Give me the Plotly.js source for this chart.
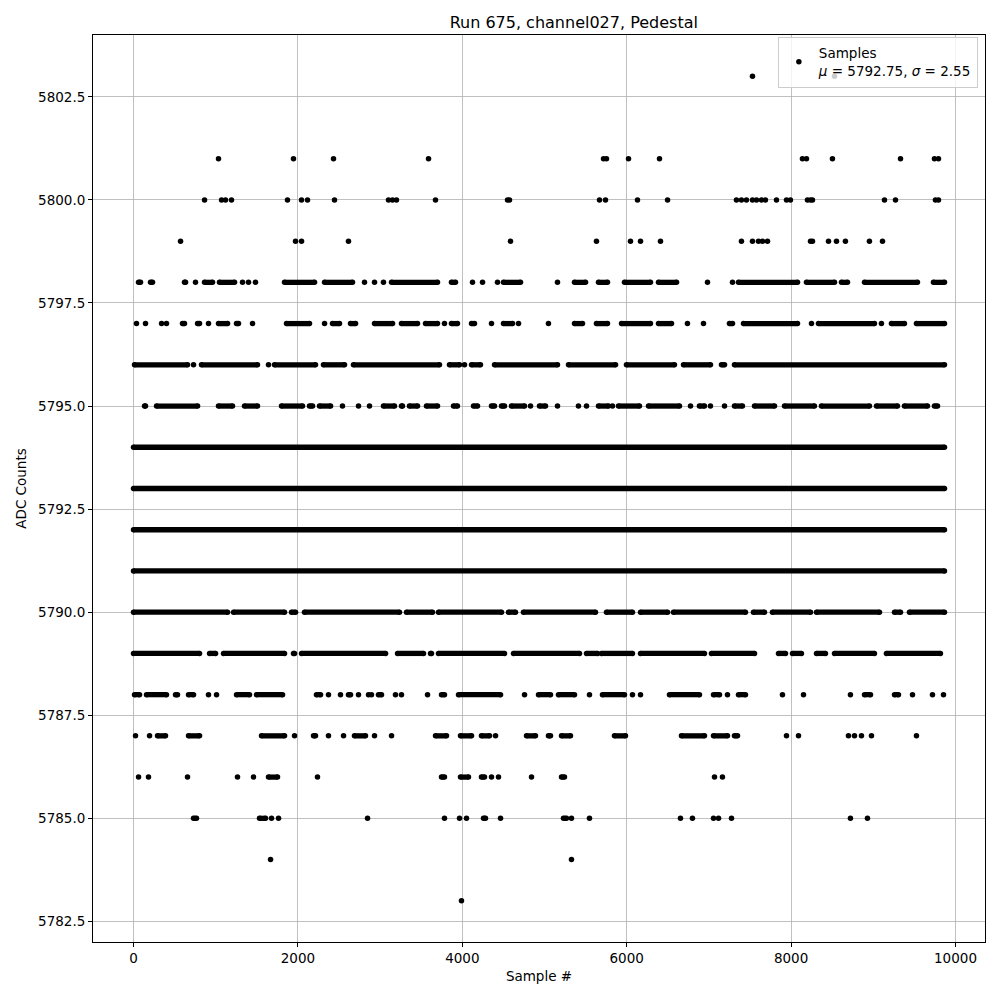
<!DOCTYPE html>
<html>
<head>
<meta charset="utf-8">
<script src="https://cdn.plot.ly/plotly-3.0.1.min.js"></script>
<style>html,body{margin:0;padding:0;background:#fff;}#chart{width:1000px;height:1000px;}</style>
</head>
<body>
<div id="chart"></div>
<script>
// ADC levels (counts) and, for each level, the samples where it occurs.
// A number is a single sample; a pair [a, b] is a run of consecutive, densely packed samples.
const levelValues = [5803, 5801, 5800, 5799, 5798, 5797, 5796, 5795, 5794, 5793, 5792, 5791, 5790, 5789, 5788, 5787, 5786, 5785, 5784, 5783];

const adc5803 = [7530, 8528];
const adc5801 = [1034, 1946, 2433, 3589, 5718, 5754, 6022, 6399, 8138, 8187, 8503, 9331, 9744, 9793];
const adc5800 = [864, 1071, 1119, 1192, 1873, 2044, 2117, 2445, 3102, 3151, 3199, 3674, 4550, 4574, 5669, 5742, 6131, 6497,
  7335, 7396, 7457, 7530, 7579, 7640, 7688, 7822, 7944, 7992, 8199, 8236, 8260, 9136, 9270, 9756, 9793];
const adc5799 = [572, 1971, 2044, 2615, 4586, 5632, 6046, 6168, 6411, 7396, 7530, 7603, 7652, 7713, 8236, 8260, 8455, 8552, 8661, 8953, 9112];
const adc5798 = [[61, 85], [207, 231], [620, 633], 754, [864, 961], [1046, 1229], 1326, 1399, 1484, [1837, 2202], [2324, 2664],
  2810, 2932, 3041, [3139, 3698], [3868, 3917], 4124, 4246, 4428, [4501, 4708], 5158, [5365, 5499], [5657, 5766],
  [5973, 6289], [6387, 6606], 6983, 7287, [7360, 8078], [8187, 8528], [8613, 8686], [8893, 9537], [9732, 9866]];
const adc5797 = [36, 146, 341, 401, [596, 620], [779, 803], 912, [1034, 1144], [1253, 1277], 1448, [1861, 2141], 2324,
  [2421, 2506], [2640, 2701], [2932, 3151], [3260, 3455], [3552, 3698], 3783, [3868, 3941], [4112, 4148], 4355,
  [4501, 4611], 4684, 5048, [5365, 5462], [5632, 5766], [5937, 6289], [6387, 6545], 6739, 6934, [7250, 7287],
  [7421, 8078], 8248, [8333, 9014], 9099, [9221, 9379], [9525, 9866]];
const adc5796 = [[12, 657], 730, [827, 1508], 1642, [1715, 2214], [2311, 2567], [2676, 3722], [3844, 3966], 4027,
  [4112, 4221], [4392, 5158], [5292, 5864], [5997, 6581], [6691, 7019], [7153, 7190], [7311, 9866]];
const adc5795 = [[134, 146], [280, 779], [1034, 1204], [1350, 1508], [1800, 2056], [2141, 2178], [2263, 2397], 2542, 2737,
  2871, [3041, 3175], [3260, 3272], [3357, 3455], [3564, 3698], [3893, 3941], [4136, 4185], [4355, 4392], [4477, 4513],
  [4598, 4757], 4830, [4939, 5012], 5158, 5413, 5511, [5657, 5778], 5827, [5900, 6155], [6265, 6642], 6776,
  [6885, 6946], 7019, 7190, [7311, 7408], [7555, 7798], [7920, 8284], [8369, 8953], [9039, 9294], [9379, 9659], [9744, 9781]];
const adc5794 = [[0, 9866]];
const adc5793 = [[0, 9866]];
const adc5792 = [[0, 9866]];
const adc5791 = [[0, 9866]];
const adc5790 = [[0, 1144], [1217, 1837], [1922, 1971], [2080, 3236], [3321, 3637], [3710, 4477], [4562, 4647], [4744, 5620],
  [5754, 6070], [6168, 6497], [6569, 7445], [7542, 7676], [7773, 8236], [8309, 9075], [9258, 9331], [9440, 9866]];
const adc5789 = [[0, 803], [925, 998], [1095, 1837], [1946, 1959], [2044, 3066], [3212, 3528], [3613, 3625], [3710, 4513],
  [4623, 5426], [5511, 5645], [5693, 6070], [6168, 6946], [7031, 7555], [7847, 7932], [8017, 8126], [8309, 8418],
  [8528, 9014], [9160, 9817]];
const adc5788 = [[12, 73], [158, 401], [511, 535], [669, 730], 912, 1010, [1253, 1411], [1496, 1813], [2226, 2275], 2372, 2518,
  [2615, 2640], 2737, 2859, 2895, [2980, 3017], 3187, 3260, 3577, [3747, 3783], [3954, 4465], 4757, [4927, 5073],
  [5170, 5365], 5547, [5705, 5973], 6070, 6168, [6520, 6885], [7056, 7129], 7226, [7360, 7445], 7895, 8151, 8722,
  [8893, 8966], [9258, 9306], 9477, 9720, 9854];
const adc5787 = [24, 195, [292, 389], [669, 803], [1557, 1837], 1959, [2190, 2214], 2372, 2555, [2688, 2822], 2932, 3139,
  [3674, 3808], [3978, 4112], [4233, 4331], 4404, [4781, 4890], [5048, 5073], [5207, 5316], [5851, 5985], [6666, 6946],
  [7056, 7226], [7311, 7348], 7944, 8090, 8698, 8771, 8856, 8978, 9525];
const adc5786 = [61, 182, 657, 1265, 1460, [1642, 1752], 2238, [3747, 3783], [3978, 4075], [4233, 4270], 4355, 4440, 4842,
  [5207, 5243], 7068, 7165];
const adc5785 = [[730, 766], [1533, 1606], 1679, 1764, 2847, 3783, 3966, 4051, [4258, 4282], 4465, [5231, 5267], 5328, 5547,
  6654, 6800, 7056, 7117, 7275, 8722, 8929];
const adc5784 = [1667, 5328];
const adc5783 = [3990];

const levelRuns = [adc5803, adc5801, adc5800, adc5799, adc5798, adc5797, adc5796, adc5795, adc5794, adc5793, adc5792,
  adc5791, adc5790, adc5789, adc5788, adc5787, adc5786, adc5785, adc5784, adc5783];

const legendLabel = 'Samples<br><i>μ</i> = 5792.75, <i>σ</i> = 2.55';

// Build traces
const lineX = [], lineY = [], ptX = [], ptY = [];
levelValues.forEach((lvl, i) => {
  levelRuns[i].forEach(e => {
    if (Array.isArray(e)) {
      lineX.push(e[0], e[1], null); lineY.push(lvl, lvl, null);
      ptX.push(e[0], e[1]); ptY.push(lvl, lvl);
    } else {
      ptX.push(e); ptY.push(lvl);
    }
  });
});

const font = 'DejaVu Sans, Liberation Sans, sans-serif';
const traces = [
  {x: lineX, y: lineY, type: 'scatter', mode: 'lines', line: {color: '#000', width: 5.3}, showlegend: false, hoverinfo: 'skip'},
  {x: ptX, y: ptY, type: 'scatter', mode: 'markers', name: legendLabel, marker: {color: '#000', size: 5.5}}
];

const axisCommon = {
  showline: true, linecolor: '#000', linewidth: 1, mirror: true,
  ticks: 'outside', ticklen: 4, tickwidth: 1, tickcolor: '#000',
  showgrid: true, gridcolor: '#b0b0b0', gridwidth: 0.8, zeroline: false,
  tickfont: {family: font, size: 13.5, color: '#000'}
};

const layout = {
  width: 1000, height: 1000,
  paper_bgcolor: '#fff', plot_bgcolor: '#fff',
  margin: {l: 93, r: 15, t: 35, b: 58},
  font: {family: font, color: '#000'},
  title: {text: 'Run 675, channel027, Pedestal', font: {family: font, size: 16, color: '#000'},
    x: 0.539, xanchor: 'center', xref: 'paper', y: 0.9725, yanchor: 'bottom', yref: 'container'},
  xaxis: Object.assign({}, axisCommon, {
    range: [-493, 10359], tickmode: 'array', tickvals: [0, 2000, 4000, 6000, 8000, 10000],
    ticktext: ['0', '2000', '4000', '6000', '8000', '10000'],
    title: {text: 'Sample #', font: {family: font, size: 13.5, color: '#000'}, standoff: 6}
  }),
  yaxis: Object.assign({}, axisCommon, {
    range: [5782, 5804], tickmode: 'linear', tick0: 5782.5, dtick: 2.5, tickformat: '.1f',
    title: {text: 'ADC Counts', font: {family: font, size: 13.5, color: '#000'}, standoff: 8}
  }),
  showlegend: true,
  legend: {x: 0.992, y: 0.998, xanchor: 'right', yanchor: 'top', bgcolor: 'rgba(255,255,255,0.8)',
    bordercolor: '#cccccc', borderwidth: 1, font: {family: font, size: 13.5, color: '#000'}, itemsizing: 'trace',
    itemwidth: 30, valign: 'middle'}
};

Plotly.newPlot('chart', traces, layout, {displayModeBar: false, staticPlot: true});
</script>
</body>
</html>
